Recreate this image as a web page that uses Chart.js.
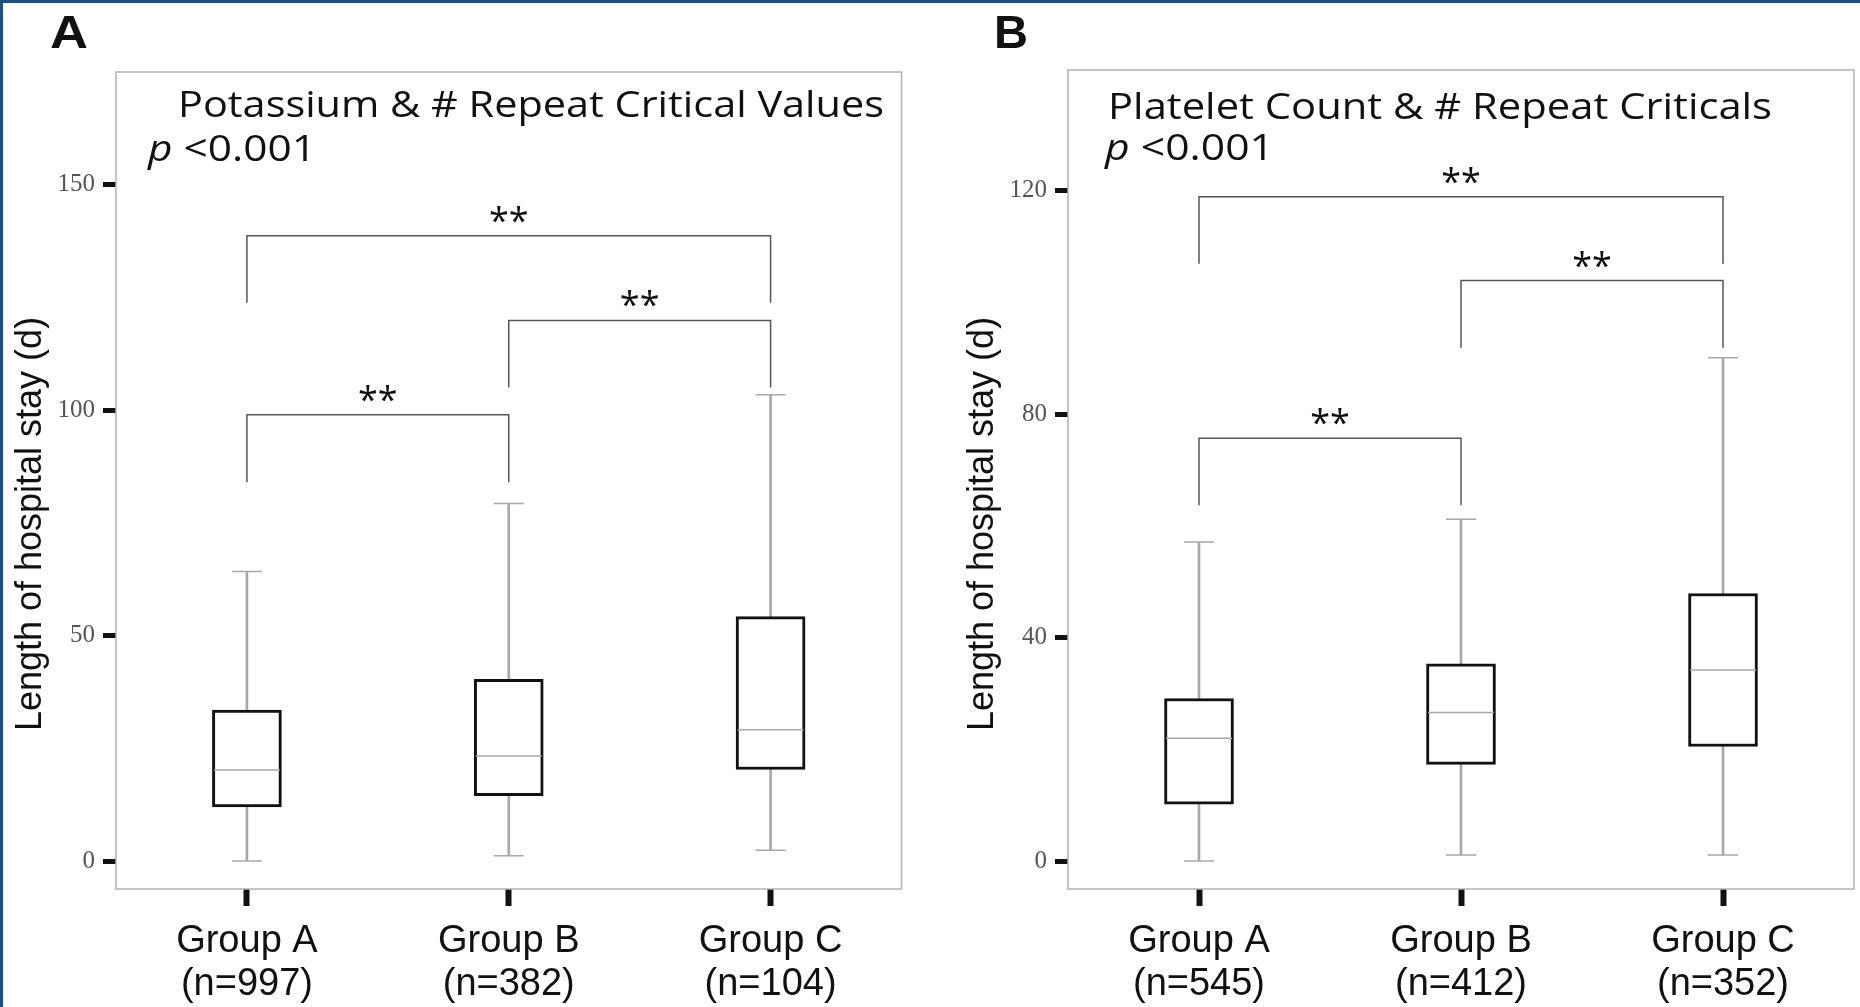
<!doctype html>
<html lang="en">

<head>
    <meta charset="utf-8">
    <title>Length of hospital stay by repeat critical values</title>
    <style>
        * {
            margin: 0;
            padding: 0;
        }

        body {
            width: 1860px;
            height: 1007px;
            background: #fff;
            position: relative;
            overflow: hidden;
        }

        .panel {
            position: absolute;
            top: 0;
            width: 930px;
            height: 1007px;
        }

        #panelA {
            left: 0;
        }

        #panelB {
            left: 930px;
        }

        .pageFrame {
            position: absolute;
            left: 0;
            top: 0;
            width: 1860px;
            height: 1007px;
            box-sizing: border-box;
            border-top: 3px solid #1f4e85;
            border-left: 3px solid #1f4e85;
            pointer-events: none;
        }
    </style>
</head>

<body>
    <div class="panel" id="panelA"><canvas id="chartA" width="930" height="1007"></canvas></div>
    <div class="panel" id="panelB"><canvas id="chartB" width="930" height="1007"></canvas></div>
    <div class="pageFrame"></div>

    <script src="https://cdn.jsdelivr.net/npm/chart.js"></script>

    <script>
        const categories = ['Group A', 'Group B', 'Group C'];

        // panel A - potassium
        const nA = [997, 382, 104];
        const lowA = [0, 1.2, 2.4];
        const q1A = [12.0, 14.5, 20.3];
        const medA = [20.2, 23.3, 29.1];
        const q3A = [33.5, 40.3, 54.2];
        const highA = [64.2, 79.3, 103.4];
        const yTicksA = [0, 50, 100, 150];
        const yMinA = -6.2;
        const yMaxA = 175;
        const pairsA = [[0, 1], [1, 2], [0, 2]];
        const bracketTopA = [99, 119.9, 138.7];
        const bracketLegA = [84, 105, 123.8];

        // panel B - platelet count
        const nB = [545, 412, 352];
        const lowB = [0, 1.1, 1.1];
        const q1B = [10.2, 17.3, 20.5];
        const medB = [22.0, 26.6, 34.2];
        const q3B = [29.1, 35.3, 47.9];
        const highB = [57.1, 61.2, 90.1];
        const yTicksB = [0, 40, 80, 120];
        const yMinB = -5.0;
        const yMaxB = 141.6;
        const pairsB = [[0, 1], [1, 2], [0, 2]];
        const bracketTopB = [75.7, 103.9, 118.9];
        const bracketLegB = [63.7, 91.9, 106.9];

        const GRAY = '#a8a8a8';

        // horizontal tick-like marks (median, whisker caps)
        function pointLine(data, radius, order) {
            return {
                type: 'line',
                data: data,
                showLine: false,
                pointStyle: 'line',
                pointRadius: radius,
                pointHoverRadius: radius,
                pointBorderColor: GRAY,
                pointBackgroundColor: GRAY,
                pointBorderWidth: 1.5,
                order: order
            };
        }

        function boxDatasets(low, q1, med, q3, high, pairs, tops, legs) {
            const ds = [];
            // whisker
            ds.push({
                type: 'bar',
                data: low.map((v, i) => [v, high[i]]),
                backgroundColor: GRAY,
                barThickness: 2,
                grouped: false,
                order: 3
            });
            // box
            ds.push({
                type: 'bar',
                data: q1.map((v, i) => [v, q3[i]]),
                backgroundColor: '#ffffff',
                borderColor: '#111111',
                borderWidth: 3,
                borderSkipped: false,
                barThickness: 69,
                grouped: false,
                order: 2
            });
            ds.push(pointLine(med, 33, 1));
            ds.push(pointLine(low, 15, 1));
            ds.push(pointLine(high, 15, 1));
            // significance brackets
            pairs.forEach(([a, b], k) => {
                ds.push({
                    type: 'line',
                    data: [
                        { x: categories[a], y: legs[k] },
                        { x: categories[a], y: tops[k] },
                        { x: categories[b], y: tops[k] },
                        { x: categories[b], y: legs[k] }
                    ],
                    borderColor: '#555555',
                    borderWidth: 1.5,
                    pointRadius: 0,
                    fill: false,
                    tension: 0,
                    order: 0
                });
            });
            return ds;
        }

        // draw text squeezed/stretched to a given width
        function drawFitted(ctx, parts, x, y, width) {
            let natural = 0;
            parts.forEach(p => { ctx.font = p.font; natural += ctx.measureText(p.text).width; });
            ctx.save();
            ctx.translate(x, y);
            ctx.scale(width / natural, 1);
            let cx = 0;
            parts.forEach(p => {
                ctx.font = p.font;
                ctx.fillText(p.text, cx, 0);
                cx += ctx.measureText(p.text).width;
            });
            ctx.restore();
        }

        const framePlugin = {
            id: 'plotFrame',
            beforeDatasetsDraw(chart) {
                const a = chart.chartArea;
                const ctx = chart.ctx;
                ctx.save();
                ctx.strokeStyle = '#b3b3b3';
                ctx.lineWidth = 1.5;
                ctx.strokeRect(a.left, a.top, a.right - a.left, a.bottom - a.top);
                ctx.restore();
            }
        };

        const textPlugin = {
            id: 'panelText',
            afterDraw(chart, args, o) {
                const ctx = chart.ctx;
                const xs = chart.scales.x;
                const ys = chart.scales.y;
                ctx.save();
                ctx.fillStyle = '#111';
                ctx.textAlign = 'left';
                ctx.textBaseline = 'alphabetic';
                drawFitted(ctx, [{ text: o.letter, font: 'bold 46px "Liberation Sans"' }], o.letterX, 48, o.letterW);
                drawFitted(ctx, [{ text: o.title, font: '37px "Open Sans"' }], o.titleX, o.titleY, o.titleW);
                drawFitted(ctx, [
                    { text: 'p', font: 'italic 36px "Open Sans"' },
                    { text: ' <0.001', font: '36px "Open Sans"' }
                ], o.pX, o.pY, o.pW);

                // y axis title
                ctx.save();
                ctx.translate(o.yTitleX, 524);
                ctx.rotate(-Math.PI / 2);
                ctx.font = '36px "Liberation Sans"';
                ctx.textAlign = 'center';
                ctx.textBaseline = 'middle';
                ctx.fillText('Length of hospital stay (d)', 0, 0);
                ctx.restore();

                // stars over brackets
                ctx.font = '36px "Open Sans"';
                ctx.textAlign = 'center';
                o.pairs.forEach(([a, b], k) => {
                    const px = (xs.getPixelForValue(a) + xs.getPixelForValue(b)) / 2;
                    const py = ys.getPixelForValue(o.tops[k]) - 3;
                    ctx.fillText('**', px, py);
                });
                ctx.restore();
            }
        };

        function makeChart(id, p) {
            return new Chart(document.getElementById(id), {
                type: 'bar',
                data: {
                    labels: categories,
                    datasets: boxDatasets(p.low, p.q1, p.med, p.q3, p.high, p.pairs, p.tops, p.legs)
                },
                options: {
                    responsive: false,
                    animation: false,
                    events: [],
                    layout: {
                        autoPadding: false,
                        padding: { left: 0, right: p.padRight, top: p.padTop, bottom: 0 }
                    },
                    plugins: {
                        legend: { display: false },
                        tooltip: { enabled: false },
                        panelText: {
                            letter: p.letter, letterX: p.letterX, letterW: p.letterW,
                            title: p.title, titleX: p.titleX, titleY: p.titleY, titleW: p.titleW,
                            pX: p.pX, pY: p.pY, pW: p.pW,
                            yTitleX: p.yTitleX,
                            pairs: p.pairs, tops: p.tops
                        }
                    },
                    scales: {
                        x: {
                            type: 'category',
                            offset: true,
                            afterFit: s => {
                                s.height = 118;
                                s.paddingLeft = 0;
                                s.paddingRight = 0;
                            },
                            ticks: {
                                autoSkip: false,
                                maxRotation: 0,
                                padding: 14,
                                color: '#111',
                                font: { family: '"Liberation Sans"', size: 38, lineHeight: '43px' },
                                callback: (v, i) => [categories[i], '(n=' + p.n[i] + ')']
                            },
                            grid: { offset: false, drawOnChartArea: false, tickLength: 17, tickWidth: 6, tickColor: '#111' },
                            border: { display: false }
                        },
                        y: {
                            min: p.yMin,
                            max: p.yMax,
                            afterBuildTicks: s => { s.ticks = p.yTicks.map(v => ({ value: v })); },
                            afterFit: s => {
                                s.width = p.yWidth;
                                s.paddingTop = 0;
                                s.paddingBottom = 0;
                            },
                            ticks: {
                                padding: 8,
                                color: '#555',
                                font: { family: '"Liberation Serif"', size: 25 }
                            },
                            grid: { drawOnChartArea: false, tickLength: 13, tickWidth: 5, tickColor: '#111' },
                            border: { display: false }
                        }
                    }
                },
                plugins: [framePlugin, textPlugin]
            });
        }

        makeChart('chartA', {
            n: nA, low: lowA, q1: q1A, med: medA, q3: q3A, high: highA,
            yTicks: yTicksA, yMin: yMinA, yMax: yMaxA,
            pairs: pairsA, tops: bracketTopA, legs: bracketLegA,
            padRight: 28.5, padTop: 72, yWidth: 116,
            letter: 'A', letterX: 50, letterW: 38,
            title: 'Potassium & # Repeat Critical Values', titleX: 178, titleY: 117, titleW: 706,
            pX: 148, pY: 161, pW: 168, yTitleX: 31
        });

        makeChart('chartB', {
            n: nB, low: lowB, q1: q1B, med: medB, q3: q3B, high: highB,
            yTicks: yTicksB, yMin: yMinB, yMax: yMaxB,
            pairs: pairsB, tops: bracketTopB, legs: bracketLegB,
            padRight: 6, padTop: 70, yWidth: 138,
            letter: 'B', letterX: 64, letterW: 34,
            title: 'Platelet Count & # Repeat Criticals', titleX: 178, titleY: 119, titleW: 664,
            pX: 175, pY: 160, pW: 169, yTitleX: 53
        });
    </script>

</body>

</html>
